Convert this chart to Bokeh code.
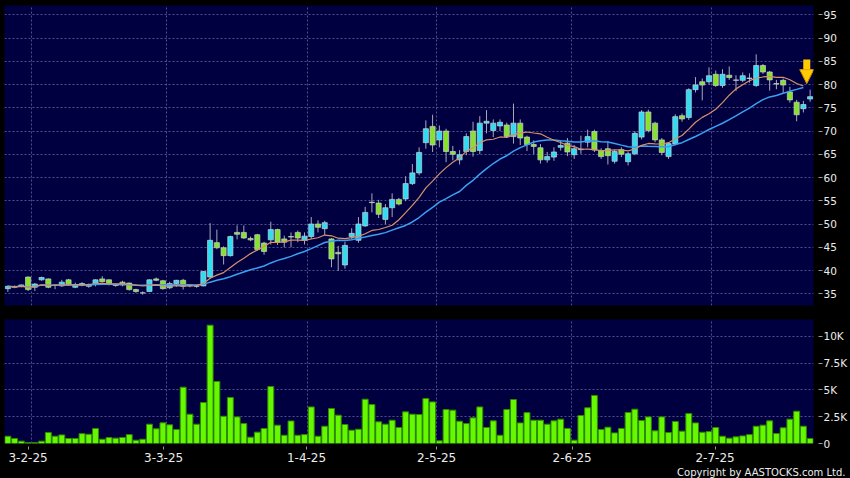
from bokeh.plotting import figure
from bokeh.layouts import column
from bokeh.models import (ColumnDataSource, FixedTicker, Grid, Range1d, Arrow,
                          NormalHead, Title)
from bokeh.embed import file_html
from bokeh.resources import INLINE
import pandas as pd

# ---------------- data ----------------
opens = [36.1, 36.5, 36.6, 38.6, 36.4, 38.0, 38.2, 36.8, 36.7, 38.0,
         36.4, 37.2, 36.6, 37.2, 38.2, 38.0, 36.9, 37.5, 37.3, 35.9,
         35.2, 35.5, 38.2, 37.8, 36.3, 37.2, 37.9, 36.8, 36.6, 36.7,
         38.6, 46.0, 44.9, 43.2, 48.2, 48.2, 46.9, 47.7, 45.9, 46.6,
         48.8, 46.8, 47.3, 48.2, 46.5, 47.3, 50.0, 49.0, 46.8, 43.9,
         41.2, 47.3, 46.5, 49.6, 54.7, 54.5, 51.0, 53.5, 55.3, 55.4,
         58.7, 61.0, 67.5, 71.0, 68.1, 70.0, 65.6, 63.8, 65.6, 70.0,
         65.8, 71.7, 70.1, 71.1, 71.3, 68.8, 71.7, 68.7, 67.1, 66.4,
         63.8, 64.4, 66.5, 67.4, 64.9, 66.0, 67.6, 69.9, 65.8, 66.2,
         63.5, 66.0, 63.4, 65.1, 68.7, 74.1, 71.7, 68.1, 64.5, 67.2,
         73.3, 72.9, 78.9, 80.6, 80.6, 82.2, 79.8, 82.0, 81.0, 80.9,
         81.3, 79.8, 84.1, 82.7, 80.2, 80.9, 78.4, 76.2, 74.8, 76.9]
highs = [36.8, 36.8, 37.0, 38.7, 37.3, 38.7, 38.3, 37.0, 38.0, 38.2,
         37.4, 37.5, 37.2, 38.1, 38.8, 38.1, 37.1, 37.8, 37.4, 36.1,
         35.5, 38.1, 38.5, 38.0, 37.6, 38.0, 38.2, 37.0, 37.0, 39.9,
         50.2, 48.8, 45.2, 47.5, 49.7, 49.7, 47.3, 47.9, 46.2, 50.5,
         49.0, 47.5, 48.2, 48.6, 48.2, 51.5, 50.8, 50.7, 47.0, 45.3,
         46.2, 49.1, 51.5, 53.7, 56.6, 55.2, 54.3, 56.6, 55.6, 60.3,
         62.9, 66.5, 72.3, 73.5, 71.2, 70.5, 66.8, 65.9, 69.5, 72.0,
         73.2, 74.5, 72.5, 72.5, 71.8, 75.9, 72.5, 69.0, 68.0, 67.2,
         65.5, 66.5, 68.0, 68.5, 67.0, 69.0, 70.3, 70.3, 66.3, 67.8,
         66.0, 66.5, 65.5, 70.0, 74.5, 74.6, 72.0, 68.5, 67.6, 73.6,
         73.8, 79.2, 81.6, 81.3, 83.7, 83.0, 83.3, 83.9, 82.0, 82.6,
         82.4, 86.5, 84.4, 82.9, 81.0, 81.3, 79.5, 76.7, 76.5, 78.9]
lows = [35.4, 36.2, 36.4, 35.6, 35.6, 37.8, 36.2, 36.0, 36.5, 36.7,
        36.2, 36.6, 36.3, 36.6, 37.4, 36.8, 36.5, 36.6, 35.7, 35.2,
        34.8, 35.4, 37.7, 35.9, 36.0, 36.5, 35.9, 36.4, 36.3, 36.6,
        38.2, 44.6, 41.3, 43.0, 46.7, 46.8, 46.3, 44.3, 43.4, 45.6,
        45.5, 45.0, 45.0, 46.1, 45.6, 46.8, 48.2, 47.6, 40.7, 39.9,
        40.4, 46.8, 46.0, 49.4, 52.5, 51.3, 50.0, 51.5, 54.0, 54.9,
        58.4, 60.5, 66.2, 65.5, 66.5, 63.3, 63.7, 62.8, 64.8, 64.5,
        65.0, 69.5, 68.7, 70.0, 68.5, 67.3, 67.0, 65.7, 65.0, 63.0,
        63.2, 63.6, 65.8, 64.6, 64.0, 65.1, 66.5, 65.5, 64.0, 62.8,
        63.0, 64.4, 62.6, 64.8, 68.2, 69.7, 67.6, 64.8, 64.0, 66.9,
        72.0, 72.4, 78.3, 76.6, 80.0, 79.5, 79.3, 81.0, 78.6, 80.5,
        80.4, 79.5, 82.3, 78.7, 79.0, 78.2, 76.1, 72.1, 74.0, 76.3]
closes = [36.6, 36.4, 36.9, 35.9, 37.1, 38.5, 36.4, 36.9, 37.5, 36.9,
          37.0, 36.8, 37.0, 38.0, 37.6, 37.0, 36.8, 36.9, 35.9, 35.5,
          35.2, 38.0, 37.9, 36.1, 37.2, 37.9, 36.6, 36.7, 36.6, 39.8,
          46.5, 44.9, 43.2, 47.3, 47.8, 47.0, 46.6, 44.5, 44.1, 48.8,
          46.1, 46.1, 47.2, 47.0, 47.4, 50.0, 49.3, 50.3, 42.5, 43.6,
          45.4, 48.0, 50.0, 52.5, 54.6, 52.1, 53.5, 55.3, 54.3, 58.7,
          61.0, 65.4, 70.5, 67.0, 70.0, 65.6, 65.0, 64.9, 68.8, 65.6,
          71.7, 72.1, 71.7, 71.9, 68.8, 71.7, 68.5, 67.1, 66.7, 63.8,
          64.5, 65.5, 66.9, 65.5, 66.2, 66.1, 68.8, 65.9, 64.5, 64.7,
          65.6, 65.0, 65.1, 69.5, 74.1, 70.1, 68.1, 65.4, 67.3, 73.1,
          72.6, 78.9, 79.9, 79.9, 81.9, 79.8, 82.2, 81.5, 80.9, 81.9,
          81.4, 84.1, 82.7, 81.0, 80.1, 79.9, 76.7, 73.5, 75.7, 77.4]
volume_k = [0.68, 0.47, 0.22, 0.09, 0.09, 0.22, 1.03, 0.68, 0.80, 0.47,
            0.47, 0.92, 0.86, 1.40, 0.40, 0.56, 0.50, 0.56, 0.83, 0.31,
            0.40, 1.80, 1.37, 1.93, 1.74, 1.30, 5.25, 2.73, 1.80, 3.82,
            11.03, 5.78, 2.54, 4.29, 2.48, 1.86, 0.59, 1.06, 1.40, 5.31,
            1.71, 0.77, 2.10, 0.77, 0.83, 3.41, 0.68, 1.61, 3.26, 2.64,
            1.77, 1.24, 1.33, 4.13, 3.63, 2.02, 1.80, 2.17, 1.49, 2.95,
            2.73, 2.70, 4.19, 3.88, 0.25, 3.17, 3.11, 2.08, 1.86, 2.39,
            3.41, 1.49, 2.11, 0.77, 3.17, 4.10, 1.92, 2.88, 2.17, 2.17,
            1.80, 2.11, 2.27, 1.40, 0.31, 2.61, 3.33, 4.48, 1.30, 1.52,
            0.99, 1.40, 2.89, 3.20, 2.14, 2.48, 1.18, 2.48, 1.02, 2.05,
            1.15, 2.79, 1.92, 1.05, 1.11, 1.49, 0.68, 0.50, 0.62, 0.71,
            0.83, 1.61, 1.71, 2.11, 0.93, 1.46, 2.27, 3.01, 1.61, 0.47]

date_tick_pos = [3, 23.1, 44.3, 63.6, 83.7, 104.9]
date_tick_labels = ["3-2-25", "3-3-25", "1-4-25", "2-5-25", "2-6-25", "2-7-25"]
date_grid_pos = [3.5, 23.5, 44.4, 63.6, 83.6, 104.4]
price_ticks = [35, 40, 45, 50, 55, 60, 65, 70, 75, 80, 85, 90, 95]
vol_ticks = [0, 2.5, 5, 7.5, 10]
vol_tick_labels = ["0", "2.5K", "5K", "7.5K", "10K"]
ma_short_days = 10
ma_long_days = 20

# ---------------- derived ----------------
n = len(closes)
idx = list(range(n))
cs = pd.Series(closes)
ma_short = cs.rolling(ma_short_days, min_periods=1).mean().tolist()
ma_long = cs.rolling(ma_long_days, min_periods=1).mean().tolist()

UP = "#2fdcf2"
DOWN = "#86e22a"
FLAT = "#b0b0b0"
colors = [UP if c > o else (DOWN if c < o else FLAT) for o, c in zip(opens, closes)]
src = ColumnDataSource(dict(
    x=idx, open=opens, high=highs, low=lows, close=closes,
    top=[max(o, c) for o, c in zip(opens, closes)],
    bottom=[min(o, c) for o, c in zip(opens, closes)],
    color=colors, vol=volume_k))

NAVY = "#000040"
GRID = "#50508a"
TXT = "#ececec"
FONT = "DejaVu Sans"

xr = Range1d(-0.5, n - 0.5)


def style(p):
    p.background_fill_color = NAVY
    p.border_fill_color = "black"
    p.outline_line_color = None
    p.xgrid.visible = False
    p.ygrid.grid_line_color = GRID
    p.ygrid.grid_line_dash = "2 2"
    p.ygrid.grid_line_width = 1
    p.add_layout(Grid(dimension=0, ticker=FixedTicker(ticks=date_grid_pos),
                      grid_line_color=GRID, grid_line_dash="2 2", grid_line_width=1))
    p.yaxis.axis_line_color = None
    p.yaxis.major_tick_line_color = "#9a9a9a"
    p.yaxis.major_tick_out = 9
    p.yaxis.major_tick_in = -5
    p.yaxis.minor_tick_line_color = None
    p.yaxis.major_label_text_color = TXT
    p.yaxis.major_label_text_font = FONT
    p.yaxis.major_label_text_font_size = "10.5px"
    p.yaxis.major_label_standoff = 1


# ---------------- price panel ----------------
p1 = figure(width=850, height=319, x_range=xr, y_range=Range1d(32.48, 97.0),
            output_backend="svg", toolbar_location=None,
            x_axis_location=None, y_axis_location="right",
            min_border_left=4, min_border_right=36, min_border_top=5,
            min_border_bottom=14)
style(p1)
p1.yaxis.ticker = FixedTicker(ticks=price_ticks)

p1.segment(x0="x", y0="low", x1="x", y1="high", source=src,
           line_color="#a8a8b8", line_width=1)
p1.vbar(x="x", width=0.76, top="top", bottom="bottom", source=src,
        fill_color="color", line_color="#c8d0d8", line_width=0.7)
p1.line(idx[:-1], ma_long[:-1], line_color="#3aa0f0", line_width=1.5)
p1.line(idx[:-1], ma_short[:-1], line_color="#d8906a", line_width=1.2)

ax = n - 1.5
ay = ma_short[-2] + 0.5
p1.add_layout(Arrow(end=NormalHead(size=14, fill_color="#ffcc00",
                                   line_color="#d99000", line_width=1),
                    x_start=ax, y_start=ay + 5.2, x_end=ax, y_end=ay,
                    line_color="#ffcc00", line_width=7))

# ---------------- volume panel ----------------
p2 = figure(width=850, height=159, x_range=xr, y_range=Range1d(0, 11.56),
            output_backend="svg", toolbar_location=None,
            y_axis_location="right",
            min_border_left=4, min_border_right=36, min_border_top=0,
            min_border_bottom=35)
style(p2)
p2.yaxis.ticker = FixedTicker(ticks=vol_ticks)
p2.yaxis.major_label_overrides = {t: l for t, l in zip(vol_ticks, vol_tick_labels)}

p2.vbar(x="x", width=0.88, top="vol", bottom=0, source=src,
        fill_color="#66f800", line_color="#2e8a00", line_width=1)

p2.xaxis.ticker = FixedTicker(ticks=date_tick_pos)
p2.xaxis.major_label_overrides = {t: l for t, l in zip(date_tick_pos, date_tick_labels)}
p2.xaxis.axis_line_color = None
p2.xaxis.major_tick_line_color = "#9a9a9a"
p2.xaxis.major_tick_out = 6
p2.xaxis.major_tick_in = -3
p2.xaxis.minor_tick_line_color = None
p2.xaxis.major_label_text_color = TXT
p2.xaxis.major_label_text_font = FONT
p2.xaxis.major_label_text_font_size = "12px"
p2.xaxis.major_label_standoff = 3

p2.add_layout(Title(text="Copyright by AASTOCKS.com Ltd.", align="right",
                    text_color=TXT, text_font=FONT, text_font_size="10px",
                    text_font_style="normal", standoff=0, offset=-32), "below")

layout = column(p1, p2, spacing=0, background="black")
open("out.html", "w").write(file_html(layout, INLINE))
